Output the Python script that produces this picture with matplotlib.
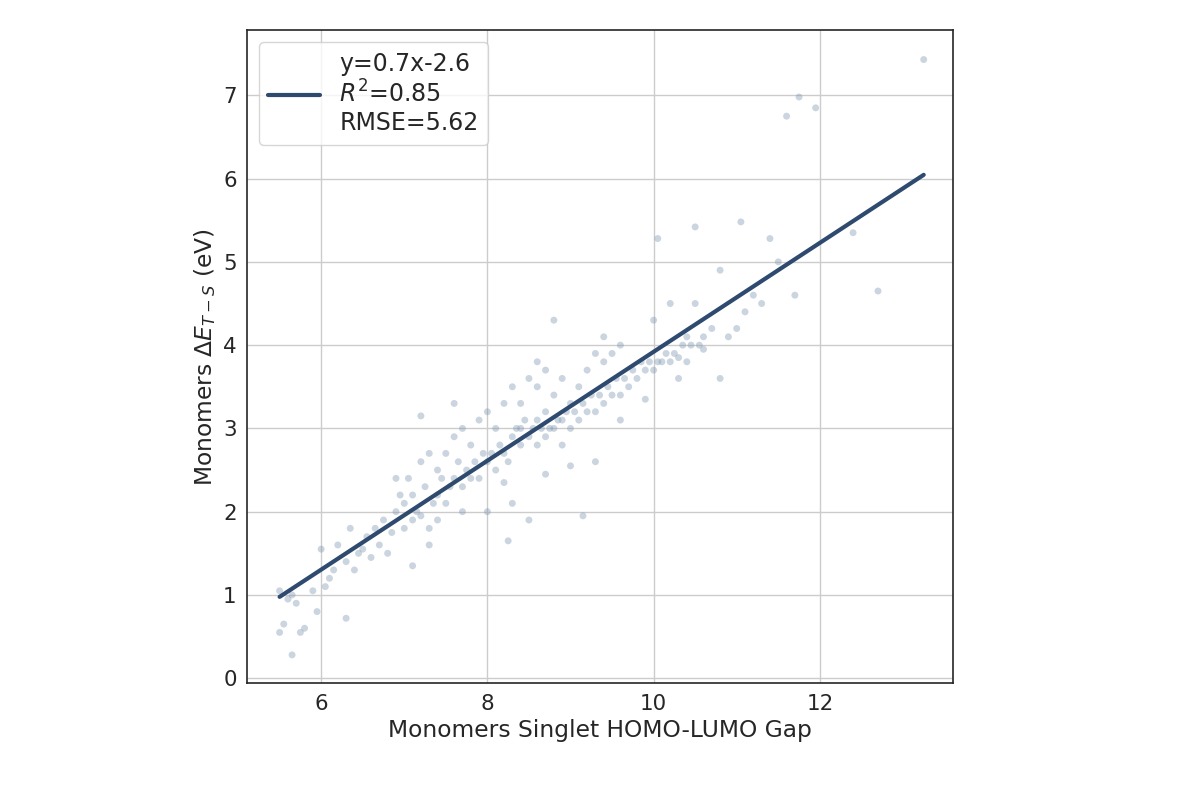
import matplotlib
matplotlib.use("Agg")
import matplotlib.pyplot as plt
import numpy as np
import seaborn as sns

gap = [5.5,5.55,5.6,5.65,5.7,5.75,5.8,5.9,5.95,6.0,6.05,6.1,6.15,6.2,6.3,6.35,6.4,6.45,6.5,6.55,6.6,6.65,6.7,6.75,6.8,6.85,6.9,6.95,7.0,7.0,7.05,7.1,7.1,7.15,7.2,7.2,7.25,7.3,7.3,7.35,7.4,7.4,7.45,7.5,7.5,7.55,7.6,7.6,7.65,7.7,7.7,7.75,7.8,7.8,7.85,7.9,7.9,7.95,8.0,8.0,8.05,8.1,8.1,8.15,8.2,8.2,8.25,8.3,8.3,8.35,8.4,8.4,8.45,8.5,8.5,8.55,8.6,8.6,8.6,8.65,8.7,8.7,8.7,8.75,8.8,8.8,8.85,8.9,8.9,8.95,9.0,9.0,9.05,9.1,9.1,9.15,9.2,9.2,9.25,9.3,9.3,9.35,9.4,9.4,9.45,9.5,9.5,9.55,9.6,9.6,9.65,9.7,9.75,9.8,9.85,9.9,9.95,10.0,10.0,10.05,10.1,10.15,10.2,10.2,10.25,10.3,10.35,10.4,10.45,10.5,10.55,10.6,10.7,10.8,10.9,11.0,11.1,11.2,11.3,11.5,11.7,11.8,12.0]
dE = [1.05,0.65,0.95,1.0,0.9,0.55,0.6,1.05,0.8,1.55,1.1,1.2,1.3,1.6,1.4,1.8,1.3,1.5,1.55,1.7,1.45,1.8,1.6,1.9,1.5,1.75,2.0,2.2,1.8,2.1,2.4,1.9,2.2,2.0,2.6,1.95,2.3,1.8,2.7,2.1,2.2,2.5,2.4,2.1,2.7,2.3,2.4,2.9,2.6,2.3,3.0,2.5,2.4,2.8,2.6,2.4,3.1,2.7,2.6,3.2,2.7,2.5,3.0,2.8,2.7,3.3,2.6,2.9,3.5,3.0,2.8,3.3,3.1,2.9,3.6,3.0,2.8,3.1,3.8,3.0,2.9,3.2,3.7,3.0,3.0,3.4,3.1,3.1,3.6,3.2,3.0,3.3,3.2,3.1,3.5,3.3,3.2,3.7,3.4,3.2,3.9,3.4,3.3,3.8,3.5,3.4,3.9,3.6,3.4,4.0,3.6,3.5,3.7,3.6,3.8,3.7,3.8,3.7,4.3,3.8,3.8,3.9,3.8,4.5,3.9,3.85,4.0,4.1,4.0,4.5,4.0,4.1,4.2,4.9,4.1,4.2,4.4,4.6,4.5,5.0,4.6]
gap_extra = [13.25,11.75,11.95,11.6,12.4,12.7,10.05,11.05,11.4,10.5,9.15,8.5,8.25,5.65,6.3,5.5,7.2,7.6,7.3,8.6,8.3,9.3,10.4,10.8,8.7,9.0,7.1,8.0,8.2,8.9,9.6,9.9,10.3,10.6,6.9,7.4,7.7,8.4,8.8,9.4]
dE_extra = [7.43,6.98,6.85,6.75,5.35,4.65,5.28,5.48,5.28,5.42,1.95,1.9,1.65,0.28,0.72,0.55,3.15,3.3,1.6,3.5,2.1,2.6,3.8,3.6,2.45,2.55,1.35,2.0,2.35,2.8,3.1,3.35,3.6,3.95,2.4,1.9,2.0,3.0,4.3,4.1]

fit_label = "y=0.7x-2.6\n$R^2$=0.85\nRMSE=5.62"
slope, intercept = 0.654, -2.62

n = min(len(gap), len(dE))
m = min(len(gap_extra), len(dE_extra))
xs_all = gap[:n] + gap_extra[:m]
ys_all = dE[:n] + dE_extra[:m]

sns.set_theme(style="whitegrid", font_scale=1.4)
fig = plt.figure(figsize=(12, 8), dpi=100)
ax = fig.add_axes([0.206, 0.146, 0.588, 0.816])
ax.scatter(xs_all, ys_all, s=25, color="#7f97b2", alpha=0.4, edgecolor="none")
xs = np.array([5.5, 13.25])
ax.plot(xs, slope * xs + intercept, color="#2e4a6e", lw=3, label=fit_label)
ax.set_xlim(5.11, 13.6)
ax.set_ylim(-0.06, 7.78)
ax.set_xticks([6, 8, 10, 12])
ax.set_yticks(range(8))
for s in ax.spines.values():
    s.set_color("#262626"); s.set_linewidth(1.2)
ax.tick_params(axis="both", which="both", length=4, color="#262626")
ax.set_xlabel("Monomers Singlet HOMO-LUMO Gap")
ax.set_ylabel(r"Monomers $\Delta E_{T-S}$ (eV)")
ax.legend(loc="upper left", fontsize=17, handlelength=2.2)
fig.savefig("out.png")
